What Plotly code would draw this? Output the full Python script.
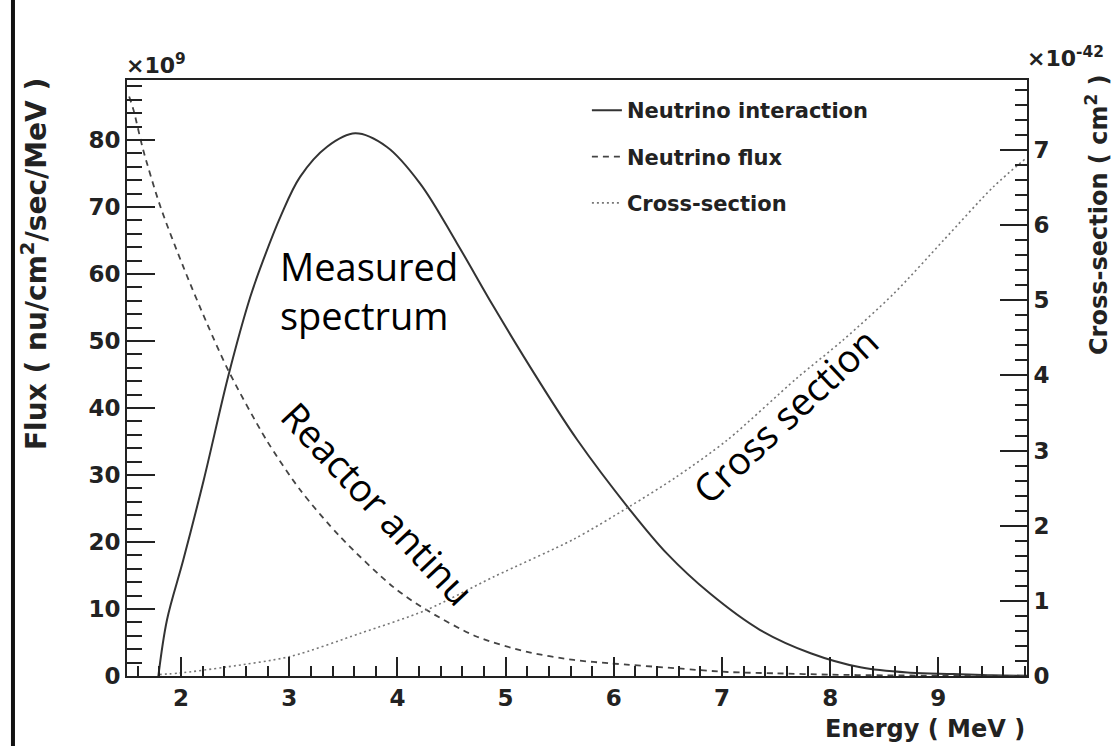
import plotly.graph_objects as go

# Neutrino interaction rate (left axis, x10^9)
energy_int = [1.79, 1.87, 2.02, 2.21, 2.44, 2.64, 2.76, 2.92, 3.10, 3.35, 3.61, 3.90,
              4.21, 4.55, 4.89, 5.29, 5.66, 6.14, 6.49, 6.89, 7.35, 7.82, 8.28, 8.74,
              9.14, 9.50, 9.82]
interaction = [0.0, 8.4, 17.3, 29.3, 45.0, 56.6, 62.1, 68.6, 74.5, 79.0, 81.0, 79.0,
               73.5, 64.6, 55.1, 44.5, 35.3, 25.0, 18.3, 12.3, 6.9, 3.4, 1.3, 0.5,
               0.3, 0.1, 0.05]

# Reactor antineutrino flux (left axis, x10^9)
energy_flux = [1.52, 1.56, 1.65, 1.81, 2.02, 2.24, 2.44, 2.79, 3.10, 3.47, 3.96, 4.27,
               4.73, 5.20, 5.63, 5.96, 6.58, 7.05, 7.50, 8.00, 8.50, 9.00, 9.50, 9.82]
flux = [86.5, 84.5, 78.5, 70.0, 61.1, 52.6, 45.5, 35.2, 27.8, 20.8, 13.3, 9.85,
        5.9, 3.6, 2.4, 1.9, 1.15, 0.6, 0.4, 0.2, 0.1, 0.05, 0.02, 0.01]

# IBD cross-section (right axis, x10^-42 cm^2)
energy_xs = [1.80, 1.99, 2.42, 3.01, 3.66, 4.27, 4.89, 5.63, 6.14, 6.58, 7.05, 7.69,
             8.12, 8.59, 9.05, 9.51, 9.82]
cross_section = [0.02, 0.04, 0.12, 0.26, 0.57, 0.88, 1.32, 1.82, 2.25, 2.65, 3.14, 3.96,
                 4.47, 5.09, 5.80, 6.51, 6.90]

x_range = [1.5, 9.82]
left_range = [0, 88.96]
right_range = [0, 7.93]

BOLD = "DejaVu Sans"
TEXT = "Open Sans"
INK = "#222222"

fig = go.Figure()
fig.add_trace(go.Scatter(x=energy_int, y=interaction, mode="lines", name="Neutrino interaction",
                         legendgroup="a", line=dict(color="#333333", width=2, shape="spline", smoothing=1.0)))
fig.add_trace(go.Scatter(x=energy_flux, y=flux, mode="lines", name="Neutrino flux",
                         legendgroup="b", line=dict(color="#444444", width=1.8, dash="6px,5px",
                                                    shape="spline", smoothing=0.8)))
fig.add_trace(go.Scatter(x=energy_xs, y=cross_section, mode="lines", name="Cross-section",
                         legendgroup="c", yaxis="y2",
                         line=dict(color="#777777", width=1.6, dash="2px,3px", shape="spline", smoothing=0.8)))

tickfont = dict(family=BOLD, size=23, color=INK, weight="bold")

fig.update_layout(
    width=1116, height=746,
    margin=dict(l=127, r=89, t=80, b=70),
    paper_bgcolor="white", plot_bgcolor="white",
    font=dict(family=BOLD, size=20, color=INK),
    showlegend=True,
    legend=dict(x=0.511, y=0.983, xanchor="left", yanchor="top", bgcolor="rgba(0,0,0,0)",
                font=dict(family=BOLD, size=21, color=INK, weight="bold"),
                tracegroupgap=16, traceorder="grouped", itemwidth=30),
    xaxis=dict(range=x_range, showgrid=False, zeroline=False, showline=True, linecolor=INK,
               linewidth=2, mirror=True, ticks="inside", ticklen=19, tickwidth=2, tickcolor=INK,
               tick0=0, dtick=1, tickfont=tickfont,
               minor=dict(ticks="inside", dtick=0.2, tick0=0, ticklen=10, tickwidth=1.5, tickcolor=INK)),
    yaxis=dict(range=left_range, showgrid=False, zeroline=False, showline=True, linecolor=INK,
               linewidth=2, ticks="inside", ticklen=28, tickwidth=2, tickcolor=INK,
               tick0=0, dtick=10, tickfont=tickfont,
               minor=dict(ticks="inside", dtick=2, tick0=0, ticklen=15, tickwidth=1.5, tickcolor=INK)),
    yaxis2=dict(range=right_range, overlaying="y", side="right", showgrid=False, zeroline=False,
                showline=True, linecolor=INK, linewidth=2, ticks="inside", ticklen=27, tickwidth=2,
                tickcolor=INK, tick0=0, dtick=1, tickfont=tickfont,
                minor=dict(ticks="inside", dtick=0.2, tick0=0, ticklen=12, tickwidth=1.5, tickcolor=INK)),
)

annotations = [
    dict(text="×10<sup>9</sup>", xref="paper", yref="paper", x=-0.003, y=1, xanchor="left", yanchor="bottom",
         showarrow=False, font=dict(family=BOLD, size=22, color=INK, weight="bold")),
    dict(text="×10<sup>-42</sup>", xref="paper", yref="paper", x=0.998, y=1.012, xanchor="left", yanchor="bottom",
         showarrow=False, font=dict(family=BOLD, size=22, color=INK, weight="bold")),
    dict(text="Flux ( nu/cm<sup>2</sup>/sec/MeV )", xref="paper", yref="paper", x=-0.102, y=1.007,
         xanchor="center", yanchor="top", textangle=-90, showarrow=False,
         font=dict(family=BOLD, size=28, color=INK, weight="bold")),
    dict(text="Cross-section ( cm<sup>2</sup> )", xref="paper", yref="paper", x=1.078, y=1.012,
         xanchor="center", yanchor="top", textangle=-90, showarrow=False,
         font=dict(family=BOLD, size=24, color=INK, weight="bold")),
    dict(text="Energy ( MeV )", xref="paper", yref="paper", x=1, y=-0.062, xanchor="right", yanchor="top",
         showarrow=False, font=dict(family=BOLD, size=24, color=INK, weight="bold")),
    dict(text="Measured<br>spectrum", x=2.90, y=57.5, xanchor="left", yanchor="middle", align="left",
         showarrow=False, font=dict(family=TEXT, size=38, color="black")),
    dict(text="Reactor antinu", x=3.82, y=25.8, xanchor="center", yanchor="middle", textangle=47,
         showarrow=False, font=dict(family=TEXT, size=38, color="black")),
    dict(text="Cross section", x=7.58, y=39.0, xanchor="center", yanchor="middle", textangle=-43,
         showarrow=False, font=dict(family=TEXT, size=38, color="black")),
]
fig.update_layout(annotations=annotations)

# vertical rule at the left edge of the page
fig.add_shape(type="line", xref="paper", yref="paper", x0=-0.1267, x1=-0.1267, y0=-0.12, y1=1.14,
              line=dict(color="#111111", width=4))

fig.write_html("out.html")
